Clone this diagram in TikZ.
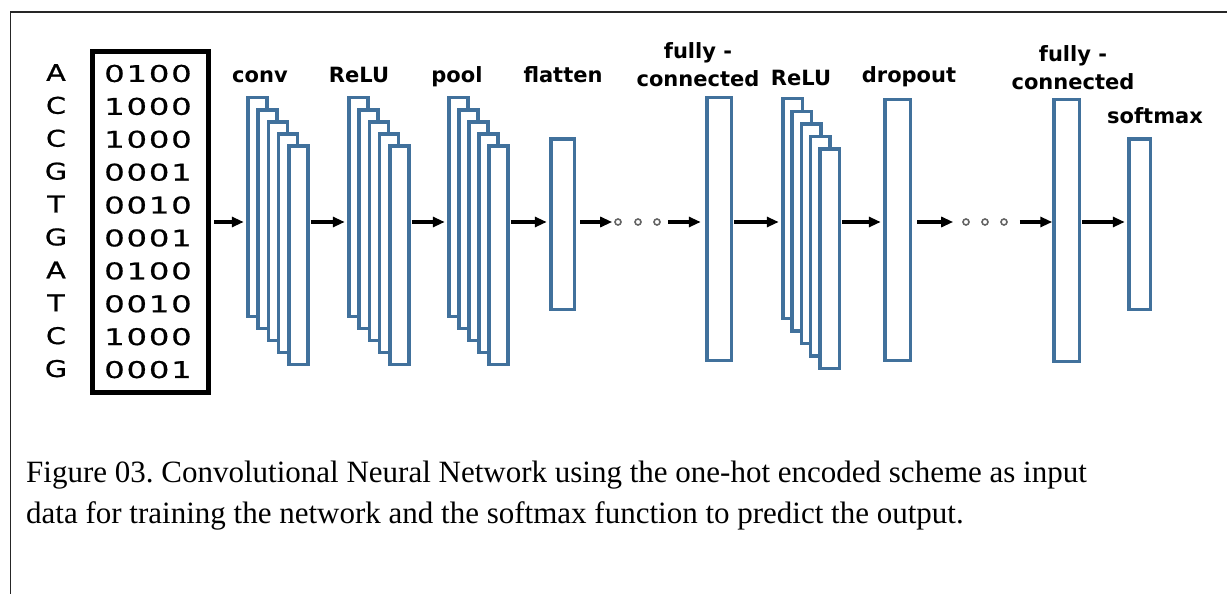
\documentclass[tikz,border=0pt]{standalone}
\usepackage{fontspec}
\setmainfont{Liberation Serif}
\newfontfamily\ntfont{DejaVu Sans}[FakeStretch=1.25,FakeBold=0.8]
\newfontfamily\bitfont{DejaVu Sans}[FakeStretch=1.4,LetterSpace=8,FakeBold=0.8]
\newfontfamily\hdfont{DejaVu Sans}
\usetikzlibrary{arrows.meta}
\definecolor{layerblue}{RGB}{65,113,156}
\definecolor{dotgray}{RGB}{100,100,100}
\tikzset{
  layer/.style={draw=layerblue, line width=3.5pt, fill=white, inner sep=0pt, outer sep=0pt, anchor=north west},
  arr/.style={-{Triangle[length=12pt,width=10pt]}, line width=3.4pt, shorten >=4pt, shorten <=3pt},
  hd/.style={font=\hdfont\bfseries\fontsize{21}{28}\selectfont, anchor=base, align=center, inner sep=0pt},
  nt/.style={font=\ntfont\fontsize{23}{24}\selectfont, inner sep=0pt},
  bits/.style={font=\bitfont\fontsize{23}{24}\selectfont, inner sep=0pt},
  dotc/.style={circle, draw=dotgray, line width=1.6pt, minimum size=6pt, inner sep=0pt},
  captext/.style={font=\frenchspacing\fontsize{31}{36}\selectfont, anchor=base west, inner sep=0pt}
}
\begin{document}
\begin{tikzpicture}[x=1pt,y=-1pt]
\useasboundingbox (0,0) rectangle (1227,594);
% frame
\draw[line width=1.5pt, black!85] (1227,12) -- (10.5,12) -- (10.5,594);
% input
\node[draw=black, line width=5.5pt, minimum width=116, minimum height=341, inner sep=0pt] (inbox) at (150.5,222) {};
\foreach \l [count=\k from 0] in {A,C,C,G,T,G,A,T,C,G}
  \node[nt] (nt\k) at (56,{72.5+32.9*\k}) {\l};
\foreach \b [count=\k from 0] in {0100,1000,1000,0001,0010,0001,0100,0010,1000,0001}
  \node[bits] (bits\k) at (148,{73.5+32.9*\k}) {\b};
% stacks
\foreach \i in {0,...,4} {
  \node[layer, minimum width=19, minimum height=218.5] (conv\i) at ({247.75+10.25*\i},{97.75+12*\i}) {};
}
\foreach \i in {0,...,4} {
  \node[layer, minimum width=19, minimum height=218.5] (relu\i) at ({348.75+10.25*\i},{97.75+12*\i}) {};
}
\foreach \i in {0,...,4} {
  \node[layer, minimum width=19, minimum height=218.5] (pool\i) at ({448.75+10*\i},{97.75+12*\i}) {};
}
\node[layer, minimum width=23.5, minimum height=170.5] (flat) at (550.75,138.75) {};
\node[layer, minimum width=24.5, minimum height=262.5] (fca) at (706.75,97.75) {};
\foreach \i in {0,...,4} {
  \node[layer, minimum width=19.5, minimum height=219.5] (relub\i) at ({782.75+9.25*\i},{98.75+12.5*\i}) {};
}
\node[layer, minimum width=25.5, minimum height=260.5] (drop) at (884.75,99.75) {};
\node[layer, minimum width=25.5, minimum height=261.5] (fcb) at (1053.75,99.75) {};
\node[layer, minimum width=21.5, minimum height=170.5] (soft) at (1128.75,138.75) {};
% labels
\node[hd] (lconv) at (260,82) {conv};
\node[hd] (lrelu) at (359,82) {ReLU};
\node[hd] (lpool) at (457,82) {pool};
\node[hd] (lflat) at (563,82) {flatten};
\node[hd] (lfca) at (698,86) {fully -\\connected};
\node[hd] (lrelub) at (801,85) {ReLU};
\node[hd] (ldrop) at (909,82) {dropout};
\node[hd] (lfcb) at (1073,89) {fully -\\connected};
\node[hd] (lsoft) at (1155,124) {softmax};
% dots
\node[dotc] (da1) at (618,222) {};
\node[dotc] (da2) at (638,222) {};
\node[dotc] (da3) at (657,222) {};
\node[dotc] (db1) at (966,222) {};
\node[dotc] (db2) at (985,222) {};
\node[dotc] (db3) at (1004,222) {};
% arrows
\draw[arr] (inbox.east |- da1) -- (conv0.west |- da1);
\draw[arr] (conv4.east |- da1) -- (relu0.west |- da1);
\draw[arr] (relu4.east |- da1) -- (pool0.west |- da1);
\draw[arr] (pool4.east |- da1) -- (flat.west |- da1);
\draw[arr, shorten >=2pt, shorten <=6pt] (flat.east |- da1) -- (da1);
\draw[arr, shorten <=7pt, shorten >=6pt] (da3) -- (fca.west |- da1);
\draw[arr] (fca.east |- da1) -- (relub0.west |- da1);
\draw[arr] (relub4.east |- da1) -- (drop.west |- da1);
\draw[arr, shorten >=9pt, shorten <=7pt] (drop.east |- db1) -- (db1);
\draw[arr, shorten <=12pt, shorten >=1.5pt] (db3) -- (fcb.west |- db1);
\draw[arr] (fcb.east |- db1) -- (soft.west |- db1);
% caption
\node[captext] (cap1) at (26,482) {Figure 03. Convolutional Neural Network using the one-hot encoded scheme as input};
\node[captext] (cap2) at (26,523) {data for training the network and the softmax function to predict the output.};
\end{tikzpicture}
\end{document}
